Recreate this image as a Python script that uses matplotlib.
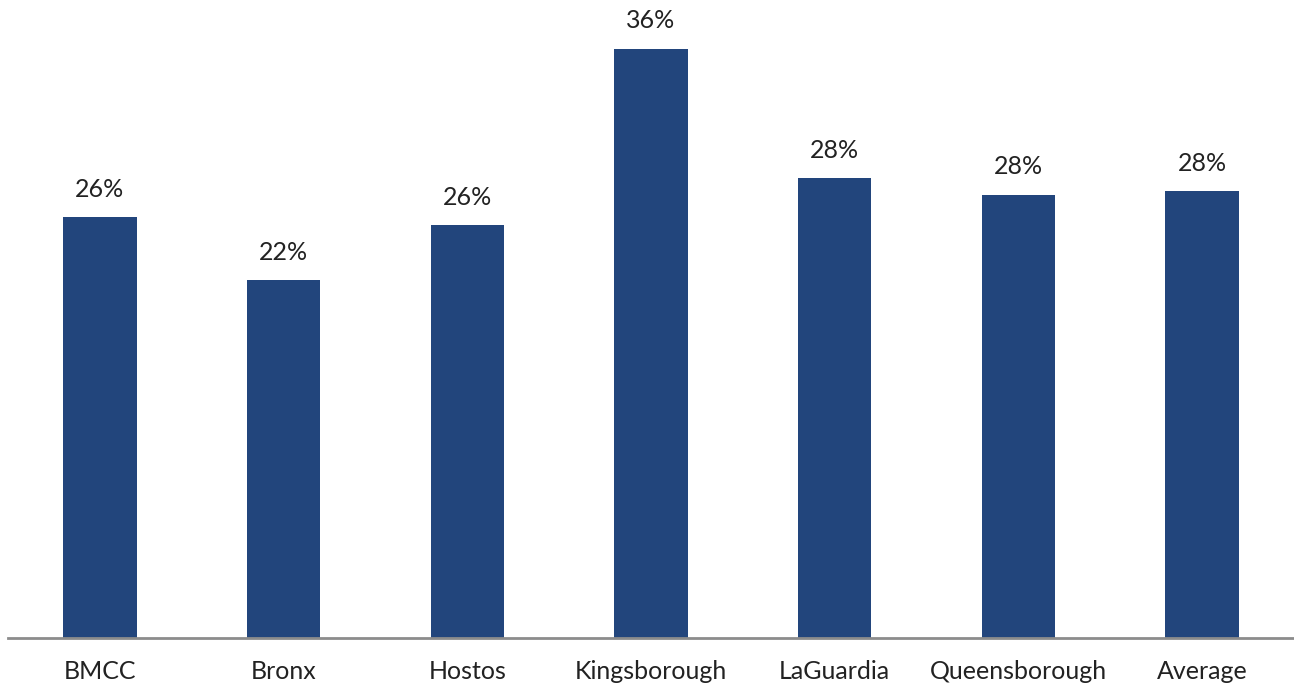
import matplotlib
matplotlib.use("Agg")
import matplotlib.pyplot as plt

# colleges and share values (percent)
colleges = ["BMCC", "Bronx", "Hostos", "Kingsborough", "LaGuardia", "Queensborough", "Average"]
values = [26.0, 22.1, 25.5, 36.4, 28.4, 27.4, 27.6]
value_labels = ["26%", "22%", "26%", "36%", "28%", "28%", "28%"]

plt.rcParams['font.family'] = ['Lato', 'DejaVu Sans']

fig = plt.figure(figsize=(12.94, 6.88), dpi=100)
ax = fig.add_axes([8 / 1294, 50 / 688, 1 - 8 / 1294, 615 / 688])

bars = ax.bar(range(len(colleges)), values, width=0.4, color="#22457C")

for bar, lab in zip(bars, value_labels):
    ax.annotate(lab, (bar.get_x() + bar.get_width() / 2, bar.get_height()),
                xytext=(0, 12), textcoords="offset points",
                ha="center", va="bottom", fontsize=18, color="#222222")

ax.set_xlim(-0.5, len(colleges) - 0.5)
ax.set_ylim(0, 38)
ax.set_xticks(range(len(colleges)))
ax.set_xticklabels(colleges, fontsize=18, color="#222222")
ax.tick_params(axis="x", length=0, pad=16)
ax.set_yticks([])

for side in ["top", "right", "left"]:
    ax.spines[side].set_visible(False)
ax.spines["bottom"].set_color("#8c8c8c")
ax.spines["bottom"].set_linewidth(2)

plt.savefig("out.png", dpi=100)
